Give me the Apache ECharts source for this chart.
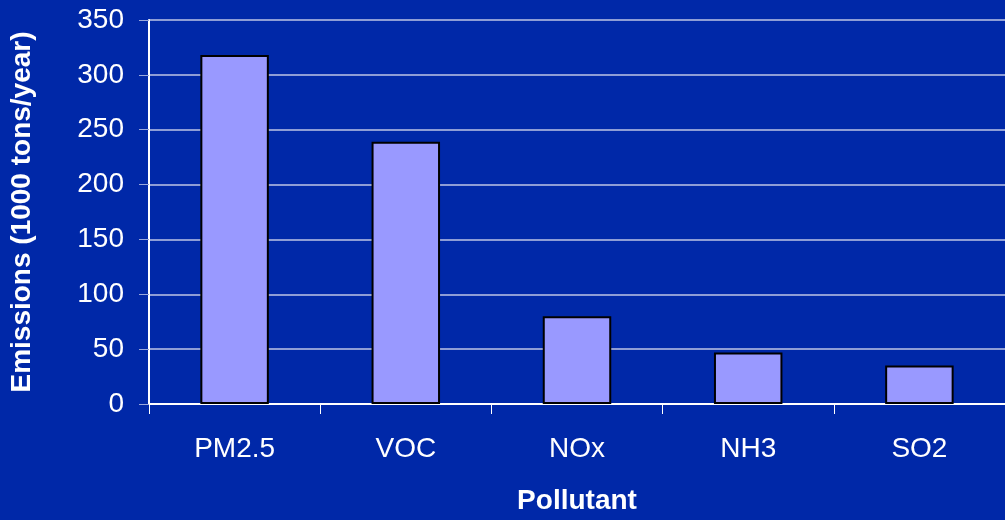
<!DOCTYPE html>
<html>
<head>
<meta charset="utf-8">
<script src="https://cdn.jsdelivr.net/npm/echarts@6/dist/echarts.min.js"></script>
<style>
  html, body { margin: 0; padding: 0; background: #0028a8; overflow: hidden; }
  #chart { width: 1005px; height: 520px; }
</style>
</head>
<body>
<div id="chart"></div>
<script>
// pollutant emissions
const pollutants = ['PM2.5', 'VOC', 'NOx', 'NH3', 'SO2'];
const emissions = [318, 239, 80, 47, 35];

const chart = echarts.init(document.getElementById('chart'));
const font = 'Arial, "Liberation Sans", sans-serif';

const option = {
    backgroundColor: '#0028a8',
    animation: false,
    grid: { left: 148, right: 0, top: 20, height: 390 },
    xAxis: {
        type: 'category',
        data: pollutants,
        name: 'Pollutant',
        nameLocation: 'middle',
        nameGap: 83,
        nameTextStyle: { color: '#fff', fontSize: 28, fontWeight: 'bold', fontFamily: font },
        axisLine: { lineStyle: { color: '#fff', width: 2 } },
        axisTick: { show: true, length: 10, lineStyle: { color: '#fff', width: 1 } },
        axisLabel: { color: '#fff', fontSize: 28, fontFamily: font, margin: 31 }
    },
    yAxis: {
        type: 'value',
        min: 0,
        max: 350,
        interval: 50,
        name: 'Emissions (1000 tons/year)',
        nameLocation: 'middle',
        nameGap: 113,
        nameTextStyle: { color: '#fff', fontSize: 28, fontWeight: 'bold', fontFamily: font },
        axisLine: { show: true, lineStyle: { color: '#fff', width: 2 } },
        axisTick: { show: true, length: 10, lineStyle: { color: '#9aa8dc' } },
        axisLabel: { color: '#fff', fontSize: 28, fontFamily: font, margin: 25 },
        splitLine: { lineStyle: { color: '#8e9dd6', width: 2 } }
    },
    series: [{
        type: 'bar',
        data: emissions,
        barWidth: '40%',
        itemStyle: { color: '#9999ff', borderColor: '#000', borderWidth: 2 }
    }]
};
chart.setOption(option);
</script>
</body>
</html>
